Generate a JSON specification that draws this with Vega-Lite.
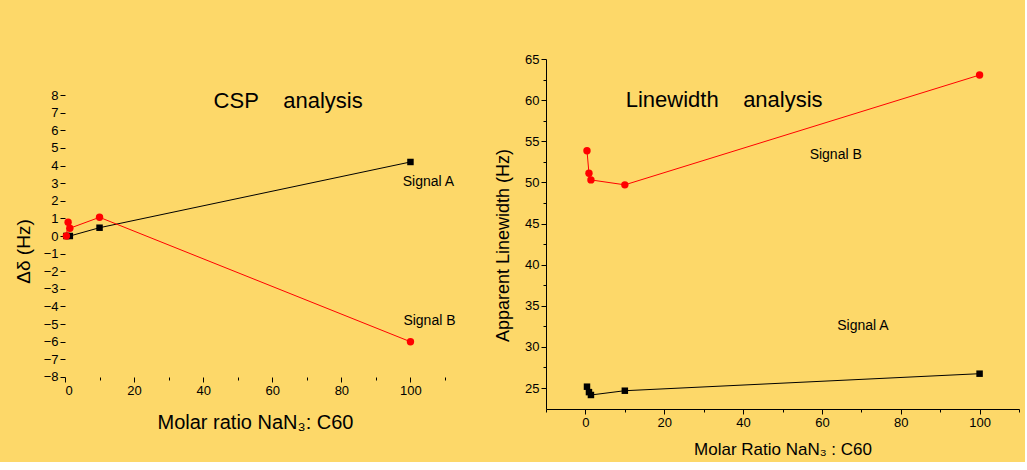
{
  "$schema": "https://vega.github.io/schema/vega-lite/v6.json",
  "background": "#FDD869",
  "padding": {"left": 14, "top": 53, "right": 5, "bottom": 5},
  "spacing": 38,
  "config": {
    "view": {"stroke": null},
    "font": "Liberation Sans",
    "axis": {
      "grid": false,
      "domainColor": "black",
      "tickColor": "black",
      "labelColor": "black",
      "titleColor": "black",
      "labelFont": "Liberation Sans",
      "titleFont": "Liberation Sans",
      "labelFontSize": 13,
      "titleFontWeight": "normal",
      "labelPadding": 2
    }
  },
  "datasets": {
    "csp": [
      {"series": "Signal A", "ratio": 0.4, "value": 0},
      {"series": "Signal A", "ratio": 1.4, "value": 0},
      {"series": "Signal A", "ratio": 10, "value": 0.47},
      {"series": "Signal A", "ratio": 100, "value": 4.2},
      {"series": "Signal B", "ratio": 0.4, "value": 0},
      {"series": "Signal B", "ratio": 0.9, "value": 0.78},
      {"series": "Signal B", "ratio": 1.4, "value": 0.44},
      {"series": "Signal B", "ratio": 10, "value": 1.06},
      {"series": "Signal B", "ratio": 100, "value": -6.0}
    ],
    "lw": [
      {"series": "Signal A", "ratio": 0.4, "value": 25.16},
      {"series": "Signal A", "ratio": 0.9, "value": 24.5},
      {"series": "Signal A", "ratio": 1.4, "value": 24.15},
      {"series": "Signal A", "ratio": 10, "value": 24.67},
      {"series": "Signal A", "ratio": 100, "value": 26.74},
      {"series": "Signal B", "ratio": 0.4, "value": 53.85},
      {"series": "Signal B", "ratio": 0.9, "value": 51.1},
      {"series": "Signal B", "ratio": 1.4, "value": 50.3},
      {"series": "Signal B", "ratio": 10, "value": 49.7},
      {"series": "Signal B", "ratio": 100, "value": 63.05}
    ],
    "cspText": [
      {"kind": "title", "label": "CSP\u00a0\u00a0\u00a0\u00a0analysis", "ratio": 64.6, "value": 7.66},
      {"kind": "signal", "label": "Signal A", "ratio": 105.2, "value": 3.06},
      {"kind": "signal", "label": "Signal B", "ratio": 105.5, "value": -4.82}
    ],
    "lwText": [
      {"kind": "title", "label": "Linewidth\u00a0\u00a0\u00a0\u00a0analysis", "ratio": 35.2, "value": 60.0},
      {"kind": "signal", "label": "Signal B", "ratio": 63.5, "value": 53.3},
      {"kind": "signal", "label": "Signal A", "ratio": 70.4, "value": 32.5}
    ]
  },
  "hconcat": [
    {
      "width": 380,
      "height": 350,
      "layer": [
        {
          "mark": {"type": "rule", "color": "black", "strokeWidth": 1},
          "encoding": {
            "x": {"datum": 0, "type": "quantitative"},
            "y": {"datum": -8, "type": "quantitative"},
            "y2": {"datum": 8}
          }
        },
        {
          "mark": {"type": "rule", "color": "black", "strokeWidth": 1},
          "encoding": {
            "y": {"datum": -8, "type": "quantitative"},
            "x": {"datum": 0, "type": "quantitative"},
            "x2": {"datum": 110}
          }
        },
        {
          "data": {"name": "csp"},
          "mark": {"type": "line", "strokeWidth": 1},
          "encoding": {
            "x": {"field": "ratio", "type": "quantitative"},
            "y": {"field": "value", "type": "quantitative"},
            "color": {"field": "series", "type": "nominal", "scale": {"domain": ["Signal A", "Signal B"], "range": ["black", "red"]}, "legend": null},
            "order": {"field": "ratio"}
          }
        },
        {
          "data": {"name": "csp"},
          "mark": {"type": "point", "filled": true, "opacity": 1},
          "encoding": {
            "x": {"field": "ratio", "type": "quantitative"},
            "y": {"field": "value", "type": "quantitative"},
            "color": {"field": "series", "type": "nominal", "scale": {"domain": ["Signal A", "Signal B"], "range": ["black", "red"]}, "legend": null},
            "shape": {"field": "series", "type": "nominal", "scale": {"domain": ["Signal A", "Signal B"], "range": ["square", "circle"]}, "legend": null},
            "size": {"field": "series", "type": "nominal", "scale": {"domain": ["Signal A", "Signal B"], "range": [42, 55]}, "legend": null}
          }
        },
        {
          "data": {"name": "cspText"},
          "transform": [{"filter": "datum.kind === 'title'"}],
          "mark": {"type": "text", "fontSize": 22, "color": "black", "font": "Liberation Sans"},
          "encoding": {
            "x": {"field": "ratio", "type": "quantitative"},
            "y": {"field": "value", "type": "quantitative"},
            "text": {"field": "label"}
          }
        },
        {
          "data": {"name": "cspText"},
          "transform": [{"filter": "datum.kind === 'signal'"}],
          "mark": {"type": "text", "fontSize": 14, "color": "black", "font": "Liberation Sans"},
          "encoding": {
            "x": {"field": "ratio", "type": "quantitative"},
            "y": {"field": "value", "type": "quantitative"},
            "text": {"field": "label"}
          }
        }
      ],
      "encoding": {
        "x": {
          "type": "quantitative",
          "scale": {"domain": [0, 110], "nice": false, "zero": false},
          "axis": {
            "title": "Molar ratio NaN\u2083: C60",
            "titleFontSize": 20,
            "titlePadding": 15,
            "domain": false,
            "offset": -32,
            "format": "d",
            "values": [0, 10, 20, 30, 40, 50, 60, 70, 80, 90, 100, 110],
            "labelExpr": "datum.value % 20 === 0 && datum.value <= 100 ? datum.label : ''",
            "tickSize": {"condition": {"test": "datum.value % 20 !== 0", "value": 3}, "value": 5}
          }
        },
        "y": {
          "type": "quantitative",
          "scale": {"domain": [-9.816, 10.043], "nice": false, "zero": false},
          "axis": {
            "title": "\u0394\u03b4 (Hz)",
            "titleFontSize": 19,
            "titlePadding": 10,
            "titleY": 192,
            "domain": false,
            "format": "d",
            "values": [-8, -7.5, -7, -6.5, -6, -5.5, -5, -4.5, -4, -3.5, -3, -2.5, -2, -1.5, -1, -0.5, 0, 0.5, 1, 1.5, 2, 2.5, 3, 3.5, 4, 4.5, 5, 5.5, 6, 6.5, 7, 7.5, 8],
            "labelExpr": "datum.value % 1 === 0 ? datum.label : ''",
            "tickSize": {"condition": {"test": "datum.value % 1 !== 0", "value": 3}, "value": 5}
          }
        }
      }
    },
    {
      "width": 473,
      "height": 350,
      "layer": [
        {
          "data": {"name": "lw"},
          "mark": {"type": "line", "strokeWidth": 1},
          "encoding": {
            "x": {"field": "ratio", "type": "quantitative"},
            "y": {"field": "value", "type": "quantitative"},
            "color": {"field": "series", "type": "nominal", "scale": {"domain": ["Signal A", "Signal B"], "range": ["black", "red"]}, "legend": null},
            "order": {"field": "ratio"}
          }
        },
        {
          "data": {"name": "lw"},
          "mark": {"type": "point", "filled": true, "opacity": 1},
          "encoding": {
            "x": {"field": "ratio", "type": "quantitative"},
            "y": {"field": "value", "type": "quantitative"},
            "color": {"field": "series", "type": "nominal", "scale": {"domain": ["Signal A", "Signal B"], "range": ["black", "red"]}, "legend": null},
            "shape": {"field": "series", "type": "nominal", "scale": {"domain": ["Signal A", "Signal B"], "range": ["square", "circle"]}, "legend": null},
            "size": {"field": "series", "type": "nominal", "scale": {"domain": ["Signal A", "Signal B"], "range": [64, 80]}, "legend": null}
          }
        },
        {
          "data": {"name": "lwText"},
          "transform": [{"filter": "datum.kind === 'title'"}],
          "mark": {"type": "text", "fontSize": 22, "color": "black", "font": "Liberation Sans"},
          "encoding": {
            "x": {"field": "ratio", "type": "quantitative"},
            "y": {"field": "value", "type": "quantitative"},
            "text": {"field": "label"}
          }
        },
        {
          "data": {"name": "lwText"},
          "transform": [{"filter": "datum.kind === 'signal'"}],
          "mark": {"type": "text", "fontSize": 14, "color": "black", "font": "Liberation Sans"},
          "encoding": {
            "x": {"field": "ratio", "type": "quantitative"},
            "y": {"field": "value", "type": "quantitative"},
            "text": {"field": "label"}
          }
        }
      ],
      "encoding": {
        "x": {
          "type": "quantitative",
          "scale": {"domain": [-10, 110], "nice": false, "zero": false},
          "axis": {
            "title": "Molar Ratio NaN\u2083 : C60",
            "titleFontSize": 17,
            "titlePadding": 12,
            "format": "d",
            "values": [-10, 0, 10, 20, 30, 40, 50, 60, 70, 80, 90, 100, 110],
            "labelExpr": "datum.value % 20 === 0 ? datum.label : ''",
            "tickSize": {"condition": {"test": "datum.value % 20 !== 0", "value": 3}, "value": 5}
          }
        },
        "y": {
          "type": "quantitative",
          "scale": {"domain": [22.447, 65], "nice": false, "zero": false},
          "axis": {
            "title": "Apparent Linewidth (Hz)",
            "titleFontSize": 18,
            "titlePadding": 12,
            "titleY": 186,
            "format": "d",
            "values": [25, 27.5, 30, 32.5, 35, 37.5, 40, 42.5, 45, 47.5, 50, 52.5, 55, 57.5, 60, 62.5, 65],
            "labelExpr": "datum.value % 5 === 0 ? datum.label : ''",
            "tickSize": {"condition": {"test": "datum.value % 5 !== 0", "value": 3}, "value": 5}
          }
        }
      }
    }
  ]
}
